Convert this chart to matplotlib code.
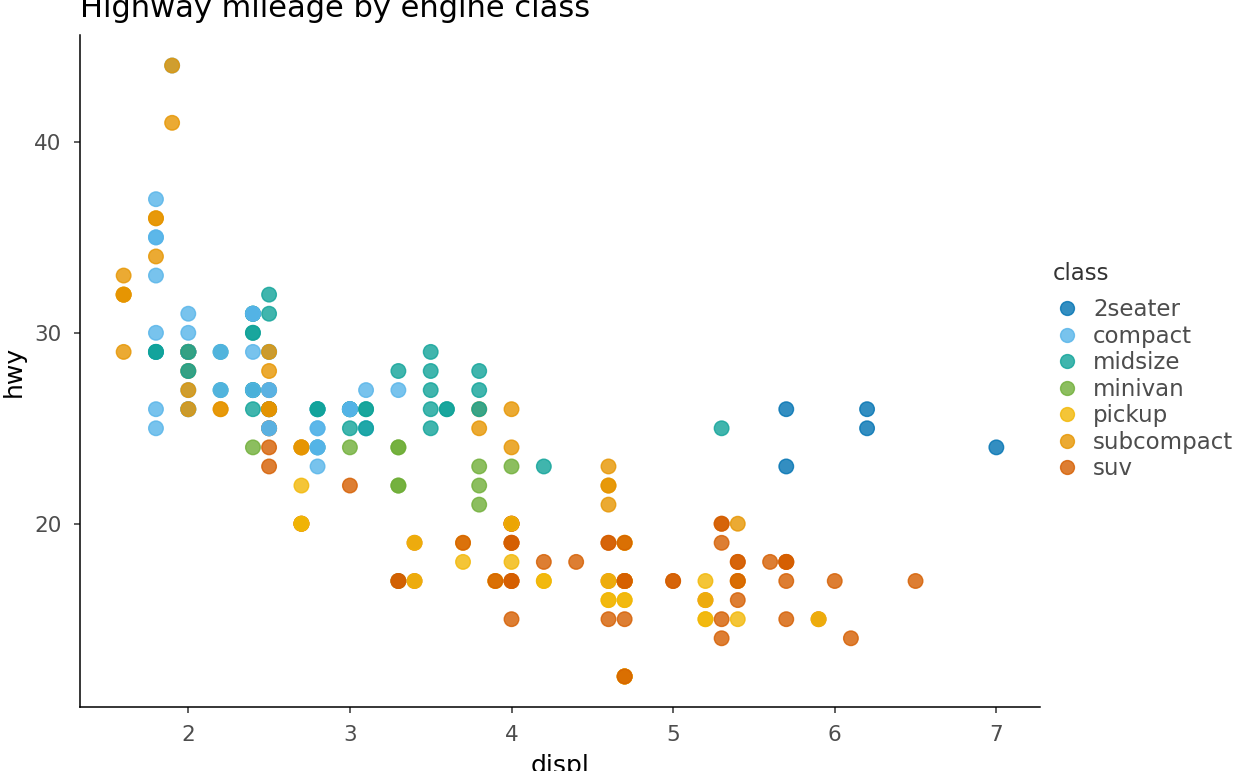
import matplotlib
matplotlib.use("Agg")
import matplotlib.pyplot as plt
from matplotlib.lines import Line2D

plt.rcParams['font.family'] = ['DejaVu Sans']

# mpg data (row order): engine displacement, highway mpg, vehicle class
displ = [
    1.8, 1.8, 2.0, 2.0, 2.8, 2.8, 3.1,
    1.8, 1.8, 2.0, 2.0, 2.8, 2.8, 3.1, 3.1,
    2.8, 3.1, 4.2,
    5.3, 5.3, 5.3, 5.7, 6.0,
    5.7, 5.7, 6.2, 6.2, 7.0,
    5.3, 5.3, 5.7, 6.5,
    2.4, 2.4, 3.1, 3.5, 3.6,
    2.4, 3.0, 3.3, 3.3, 3.3, 3.3, 3.3, 3.8, 3.8, 3.8, 4.0,
    3.7, 3.7, 3.9, 3.9, 4.7, 4.7, 4.7, 5.2, 5.2,
    3.9, 4.7, 4.7, 4.7, 5.2, 5.7, 5.9,
    4.7, 4.7, 4.7, 4.7, 4.7, 4.7, 5.2, 5.2, 5.9,
    4.6, 5.4, 5.4,
    4.0, 4.0, 4.0, 4.0, 4.6, 5.0,
    4.2, 4.2, 4.6, 4.6, 4.6, 5.4, 5.4,
    3.8, 3.8, 4.0, 4.0, 4.6, 4.6, 4.6, 4.6, 5.4,
    1.6, 1.6, 1.6, 1.6, 1.6, 1.8, 1.8, 1.8, 2.0,
    2.4, 2.4, 2.4, 2.4, 2.5, 2.5, 3.3,
    2.0, 2.0, 2.0, 2.0, 2.7, 2.7, 2.7,
    3.0, 3.7, 4.0, 4.7, 4.7, 4.7, 5.7, 6.1,
    4.0, 4.2, 4.4, 4.6,
    5.4, 5.4, 5.4,
    4.0, 4.0, 4.6, 5.0,
    2.4, 2.4, 2.5, 2.5, 3.5, 3.5,
    3.0, 3.0, 3.5,
    3.3, 3.3, 4.0, 5.6,
    3.1, 3.8, 3.8, 3.8, 5.3,
    2.5, 2.5, 2.5, 2.5, 2.5, 2.5,
    2.2, 2.2, 2.5, 2.5, 2.5, 2.5, 2.5, 2.5,
    2.7, 2.7, 3.4, 3.4, 4.0, 4.7,
    2.2, 2.2, 2.4, 2.4, 3.0, 3.0, 3.5,
    2.2, 2.2, 2.4, 2.4, 3.0, 3.0, 3.3,
    1.8, 1.8, 1.8, 1.8, 1.8,
    4.7, 5.7,
    2.7, 2.7, 2.7, 3.4, 3.4, 4.0, 4.0,
    2.0, 2.0, 2.0, 2.0, 2.8,
    1.9, 2.0, 2.0, 2.0, 2.0, 2.5, 2.5, 2.8, 2.8,
    1.9, 1.9, 2.0, 2.0, 2.5, 2.5,
    1.8, 1.8, 2.0, 2.0, 2.8, 2.8, 3.6,
]
hwy = [
    29, 29, 31, 30, 26, 26, 27,
    26, 25, 28, 27, 25, 25, 25, 25,
    24, 25, 23,
    20, 15, 20, 17, 17,
    26, 23, 26, 25, 24,
    19, 14, 15, 17,
    27, 30, 26, 29, 26,
    24, 24, 22, 22, 24, 24, 17, 22, 21, 23, 23,
    19, 18, 17, 17, 19, 19, 12, 17, 15,
    17, 17, 12, 17, 16, 18, 15,
    16, 12, 17, 17, 16, 12, 15, 16, 15,
    17, 17, 18,
    17, 19, 17, 19, 19, 17,
    17, 17, 16, 16, 17, 15, 17,
    26, 25, 26, 24, 21, 22, 23, 22, 20,
    33, 32, 32, 29, 32, 34, 36, 36, 29,
    26, 27, 30, 31, 26, 26, 28,
    26, 29, 28, 27, 24, 24, 24,
    22, 19, 20, 17, 12, 19, 18, 14,
    15, 18, 18, 15,
    17, 16, 18,
    17, 19, 19, 17,
    29, 27, 31, 32, 27, 26,
    26, 25, 25,
    17, 17, 20, 18,
    26, 26, 27, 28, 25,
    25, 24, 27, 25, 26, 23,
    26, 26, 26, 26, 25, 27, 25, 27,
    20, 20, 19, 17, 20, 17,
    29, 27, 31, 31, 26, 26, 28,
    27, 29, 31, 31, 26, 26, 27,
    30, 33, 35, 37, 35,
    15, 18,
    20, 20, 22, 17, 19, 18, 20,
    29, 26, 29, 29, 24,
    44, 29, 26, 29, 29, 29, 29, 23, 24,
    44, 41, 29, 26, 28, 29,
    29, 29, 28, 29, 26, 26, 26,
]
vclass = (
    ["compact"] * 7 + ["compact"] * 8 + ["midsize"] * 3 + ["suv"] * 5
    + ["2seater"] * 5 + ["suv"] * 4 + ["midsize"] * 5 + ["minivan"] * 11
    + ["pickup"] * 9 + ["suv"] * 7 + ["pickup"] * 9 + ["suv"] * 3
    + ["suv"] * 6 + ["pickup"] * 7 + ["subcompact"] * 9 + ["subcompact"] * 9
    + ["midsize"] * 7 + ["subcompact"] * 7 + ["suv"] * 8 + ["suv"] * 4
    + ["suv"] * 3 + ["suv"] * 4 + ["compact"] * 2 + ["midsize"] * 4
    + ["midsize"] * 3 + ["suv"] * 4 + ["midsize"] * 5 + ["suv"] * 6
    + ["subcompact"] * 4 + ["compact"] * 4 + ["suv"] * 6 + ["midsize"] * 7
    + ["compact"] * 7 + ["compact"] * 5 + ["suv"] * 2 + ["pickup"] * 7
    + ["compact"] * 5 + ["compact"] * 9 + ["subcompact"] * 6 + ["midsize"] * 7
)

classes = ["2seater", "compact", "midsize", "minivan", "pickup", "subcompact", "suv"]
palette = ["#0072B2", "#56B4E9", "#10A399", "#6FAE37", "#F2B705", "#E69500", "#D55E00"]
cmap = dict(zip(classes, palette))

W, H = 1248, 771
fig = plt.figure(figsize=(W / 100, H / 100), dpi=100)
L, R, B, T = 80, 1040, 707, 35
ax = fig.add_axes([L / W, 1 - B / H, (R - L) / W, (B - T) / H])

cols = [cmap[c] for c in vclass]
ax.scatter(displ, hwy, s=110, c=cols, alpha=0.8, linewidths=1.0, edgecolors=cols, zorder=3)

ax.set_xlim(1.33, 7.27)
ax.set_ylim(10.4, 45.6)
ax.set_xticks([2, 3, 4, 5, 6, 7])
ax.set_yticks([20, 30, 40])
for s in ["top", "right"]:
    ax.spines[s].set_visible(False)
for s in ["left", "bottom"]:
    ax.spines[s].set_linewidth(1.1)
    ax.spines[s].set_color("black")
ax.tick_params(axis="both", length=4.3, width=1.1, color="#333333",
               labelsize=15.5, labelcolor="#4D4D4D")
ax.tick_params(axis="x", pad=8.5)
ax.tick_params(axis="y", pad=9)

fig.text(L / W, 1 - 17 / H, "Highway mileage by engine class", fontsize=22,
         ha="left", va="baseline", color="black")
fig.text((L + R) / 2 / W, 1 - 773 / H, "displ", fontsize=18, ha="center", va="baseline")
fig.text(14 / W, 1 - (T + B) / 2 / H, "hwy", fontsize=18, ha="center", va="center", rotation=90)

fig.text(1053 / W, 1 - 280 / H, "class", fontsize=16.5, ha="left", va="baseline",
         color="#333333")
handles = [Line2D([], [], marker="o", linestyle="none", markersize=10,
                  markerfacecolor=cmap[c], markeredgecolor=cmap[c], alpha=0.8)
           for c in classes]
leg = fig.legend(handles, classes, loc="upper left",
                 bbox_to_anchor=(1053 / W, 1 - 298 / H), frameon=False,
                 fontsize=16.5, handletextpad=0.55, borderpad=0, borderaxespad=0,
                 labelspacing=0.155, handlelength=1.2)
for t in leg.get_texts():
    t.set_color("#4D4D4D")

fig.savefig("out.png", dpi=100)
